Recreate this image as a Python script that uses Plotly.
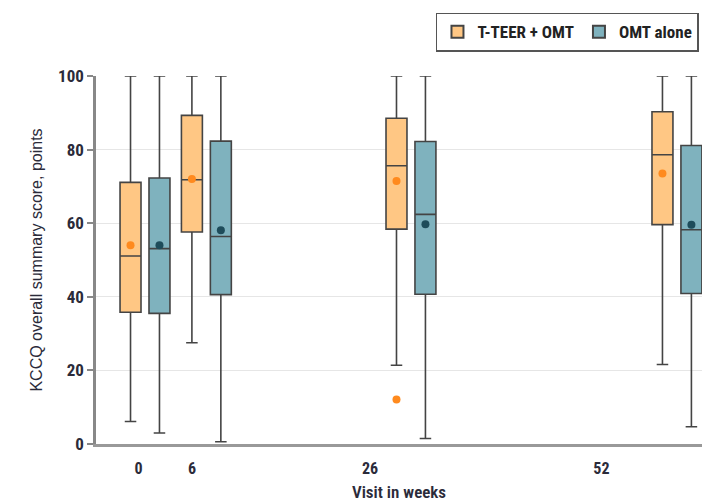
import plotly.graph_objects as go

# ---- data ----
WEEKS = [0, 6, 26, 52]
TICK_LABELS = ["0", "6", "26", "52"]

TEER_UPPER = [100, 100, 100, 100]
TEER_Q3 = [71.1, 89.3, 88.5, 90.3]
TEER_MEDIAN = [51.1, 71.8, 75.6, 78.6]
TEER_Q1 = [35.8, 57.6, 58.4, 59.6]
TEER_LOWER = [6.1, 27.5, 21.4, 21.6]
TEER_MEAN = [54.0, 72.0, 71.5, 73.5]

OMT_UPPER = [100, 100, 100, 100]
OMT_Q3 = [72.3, 82.3, 82.2, 81.1]
OMT_MEDIAN = [53.1, 56.4, 62.4, 58.2]
OMT_Q1 = [35.5, 40.6, 40.7, 40.9]
OMT_LOWER = [3.0, 0.6, 1.5, 4.7]
OMT_MEAN = [54.0, 58.1, 59.7, 59.6]

OUTLIER_WEEKS = [26]
OUTLIER_TEER = [12.1]

# ---- style ----
FONT = "Liberation Sans Narrow, Roboto Condensed, Arial Narrow, Liberation Sans, sans-serif"
WIDE_FONT = "Liberation Sans, Arial, sans-serif"
ORANGE_FILL = "#FFC784"
ORANGE_DOT = "#FF8A1E"
TEAL_FILL = "#7FB2BE"
TEAL_DOT = "#1E4C5A"
EDGE = "#444444"
TXT = "#2b2b3a"
OFFSET = 1.415   # half distance between paired boxes (box-axis units)
BOX_W = 2.05

teer_x = [w - OFFSET for w in WEEKS]
omt_x = [w + OFFSET for w in WEEKS]

fig = go.Figure()

fig.add_trace(go.Box(
    name="T-TEER + OMT", x=teer_x,
    q1=TEER_Q1, median=TEER_MEDIAN, q3=TEER_Q3,
    lowerfence=TEER_LOWER, upperfence=TEER_UPPER,
    width=BOX_W, whiskerwidth=0.55,
    fillcolor=ORANGE_FILL, line=dict(color=EDGE, width=1.6),
    boxpoints=False, hoverinfo="skip",
))
fig.add_trace(go.Box(
    name="OMT alone", x=omt_x,
    q1=OMT_Q1, median=OMT_MEDIAN, q3=OMT_Q3,
    lowerfence=OMT_LOWER, upperfence=OMT_UPPER,
    width=BOX_W, whiskerwidth=0.55,
    fillcolor=TEAL_FILL, line=dict(color=EDGE, width=1.6),
    boxpoints=False, hoverinfo="skip",
))

fig.add_trace(go.Scatter(
    x=teer_x, y=TEER_MEAN, mode="markers",
    marker=dict(color=ORANGE_DOT, size=8),
    showlegend=False, hoverinfo="skip",
))
fig.add_trace(go.Scatter(
    x=omt_x, y=OMT_MEAN, mode="markers",
    marker=dict(color=TEAL_DOT, size=8),
    showlegend=False, hoverinfo="skip",
))
fig.add_trace(go.Scatter(
    x=[w - OFFSET for w in OUTLIER_WEEKS], y=OUTLIER_TEER, mode="markers",
    marker=dict(color=ORANGE_DOT, size=8),
    showlegend=False, hoverinfo="skip",
))

# invisible trace carrying the week tick axis
fig.add_trace(go.Scatter(
    x=WEEKS, y=[0] * len(WEEKS), xaxis="x2", mode="markers",
    marker=dict(opacity=0), showlegend=False, hoverinfo="skip",
))

fig.update_layout(
    width=706, height=502,
    margin=dict(l=96, r=4, t=76, b=58),
    paper_bgcolor="white", plot_bgcolor="white",
    font=dict(family=FONT, color="#333333", size=14),
    showlegend=True,
    legend=dict(
        orientation="h", x=0.995, xanchor="right", y=1.172, yanchor="top",
        bordercolor="#555555", borderwidth=1.5,
        font=dict(family=FONT, size=17, color="#222222", weight="bold"),
        itemsizing="constant",
    ),
    xaxis=dict(
        range=[-4.79, 54.45], showticklabels=False, ticks="",
        showgrid=False, zeroline=False, automargin=False,
        showline=True, linecolor="#999999", linewidth=2.5,
    ),
    xaxis2=dict(
        overlaying="x", side="bottom", range=[-4.78, 63.3],
        tickvals=WEEKS, ticktext=TICK_LABELS, automargin=False,
        ticks="outside", ticklen=10, tickcolor="rgba(0,0,0,0)",
        showgrid=False, zeroline=False, showline=False,
        tickfont=dict(family=FONT, size=16, color=TXT, weight="bold"),
        title=dict(text="Visit in weeks", standoff=8,
                   font=dict(family=FONT, size=17, color=TXT, weight=600)),
    ),
    yaxis=dict(
        range=[0, 100], tickvals=[0, 20, 40, 60, 80, 100], automargin=False,
        ticks="outside", ticklen=6, tickcolor="#888888", tickwidth=1.5,
        showline=True, linecolor="#888888", linewidth=2.5,
        showgrid=True, gridcolor="#e6e6e6", gridwidth=1,
        zeroline=False,
        tickfont=dict(family=FONT, size=17, color=TXT, weight="bold"),
        title=dict(text="KCCQ overall summary score, points", standoff=12,
                   font=dict(family=WIDE_FONT, size=16, color=TXT)),
    ),
)

fig.write_html("out.html")
